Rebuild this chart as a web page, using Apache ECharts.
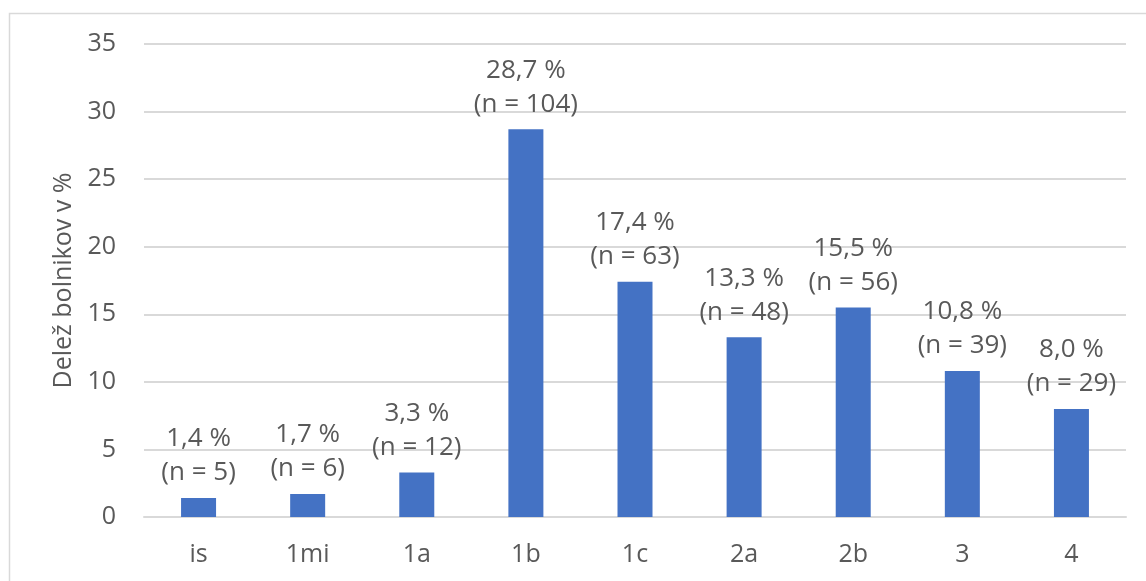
<!DOCTYPE html>
<html>
<head>
<meta charset="utf-8">
<script src="https://cdn.jsdelivr.net/npm/echarts@6/dist/echarts.min.js"></script>
<style>
  html, body { margin: 0; padding: 0; background: #ffffff; }
  #chart { width: 1146px; height: 581px; }
</style>
</head>
<body>
<div id="chart"></div>
<script>
// Stages and the share of patients in each (percent), with patient counts
const categories = ['is', '1mi', '1a', '1b', '1c', '2a', '2b', '3', '4'];
const shares = [1.4, 1.7, 3.3, 28.7, 17.4, 13.3, 15.5, 10.8, 8.0];
const counts = [5, 6, 12, 104, 63, 48, 56, 39, 29];
const yTicks = [0, 5, 10, 15, 20, 25, 30, 35];

const FONT = '"Open Sans", "Noto Sans", sans-serif';
const TEXT = '#595959';

const chart = echarts.init(document.getElementById('chart'), null, { renderer: 'canvas' });

chart.setOption({
  animation: false,
  backgroundColor: '#ffffff',
  textStyle: { fontFamily: FONT, color: TEXT },
  graphic: [{
    type: 'rect',
    shape: { x: 9.5, y: 13.5, width: 1200, height: 700 },
    style: { fill: 'none', stroke: '#d9d9d9', lineWidth: 1.5 },
    silent: true,
    z: -1
  }],
  grid: { left: 144, right: 20, top: 44, bottom: 64 },
  xAxis: {
    type: 'category',
    data: categories,
    axisLine: { show: true, lineStyle: { color: '#d9d9d9', width: 2 } },
    axisTick: { show: false },
    axisLabel: { color: TEXT, fontFamily: FONT, fontSize: 25, margin: 25 }
  },
  yAxis: {
    type: 'value',
    min: yTicks[0],
    max: yTicks[yTicks.length - 1],
    interval: 5,
    name: 'Delež bolnikov v %',
    nameLocation: 'middle',
    nameGap: 68,
    nameRotate: 90,
    nameTextStyle: { color: TEXT, fontFamily: FONT, fontSize: 25 },
    axisLine: { show: false },
    axisTick: { show: false },
    axisLabel: { color: TEXT, fontFamily: FONT, fontSize: 25, margin: 28 },
    splitLine: { lineStyle: { color: '#d9d9d9', width: 2 } }
  },
  series: [{
    type: 'bar',
    data: shares,
    barWidth: 35,
    itemStyle: { color: '#4472c4' },
    label: {
      show: true,
      position: 'top',
      distance: 8,
      color: TEXT,
      fontFamily: FONT,
      fontSize: 26,
      lineHeight: 34,
      formatter: p => p.value.toFixed(1).replace('.', ',') + ' %\n(n = ' + counts[p.dataIndex] + ')'
    }
  }]
});
</script>
</body>
</html>
